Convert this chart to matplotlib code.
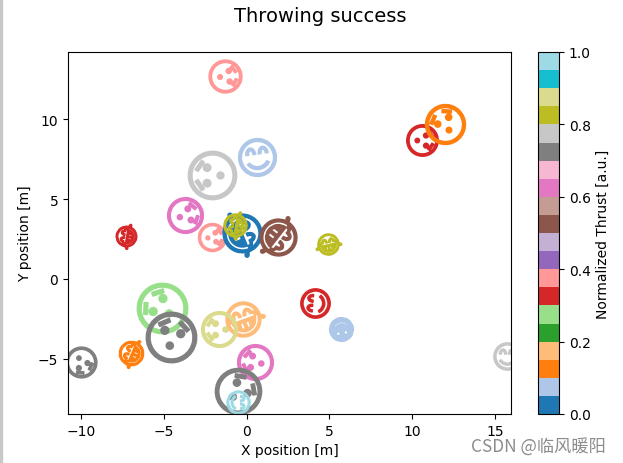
import matplotlib
matplotlib.use('Agg')
import matplotlib.pyplot as plt
from matplotlib.cm import ScalarMappable
from matplotlib.colors import Normalize
from matplotlib.font_manager import FontProperties
from matplotlib.markers import MarkerStyle
from matplotlib.path import Path
from matplotlib.textpath import TextPath
from matplotlib.transforms import Affine2D

# values
xpos = [-1.3, 0.6, -2.1, -3.7, -2.1, -0.3, -0.7, 1.9, -7.3, 10.6, 12.0, 4.9,
        4.1, 5.7, 15.7, -5.1, -4.6, -0.2, -1.7, -7.0, 0.5, -10.0, -0.5, -0.5]
ypos = [12.7, 7.6, 6.5, 4.0, 2.6, 2.9, 3.4, 2.6, 2.7, 8.7, 9.7, 2.2,
        -1.5, -3.1, -4.8, -1.8, -3.6, -2.5, -3.1, -4.6, -5.2, -5.2, -7.0, -7.7]
skill = [4.7, 5.4, 6.9, 5.1, 4.0, 6.2, 3.7, 5.9, 3.3, 4.5, 5.7, 3.4,
         4.2, 3.4, 3.9, 7.2, 7.2, 5.6, 5.1, 3.9, 5.1, 4.4, 6.6, 3.3]
angle = [-85, 8, 90, -74, -85, -67, 80, -128, 80, -90, 32, 12,
         85, 190, 0, 53, -12, 20, 90, 67, 80, -150, -45, -90]
thrust = [0.375, 0.075, 0.775, 0.625, 0.375, 0.025, 0.825, 0.525, 0.325, 0.325, 0.125, 0.825,
          0.325, 0.075, 0.775, 0.275, 0.725, 0.175, 0.875, 0.125, 0.625, 0.725, 0.725, 0.975]
mood = [1, 2, 1, 1, 1, 0, 0, 0, 0, 1, 1, 0,
        2, 3, 2, 1, 1, 0, 1, 0, 1, 1, 1, 2]
glyphs = ["\U0001F602", "\U0001F62F", "\U0001F60A", "\u263B"]

fp = FontProperties(family='DejaVu Sans')
symbols = []
for g in glyphs:
    p = TextPath((0, 0), g, prop=fp)
    # centre the glyph so the rotation keeps it on its position
    bb = p.get_extents()
    symbols.append(Path(p.vertices - [(bb.x0 + bb.x1) / 2, (bb.y0 + bb.y1) / 2], p.codes))

cmap = plt.colormaps['tab20']

fig = plt.figure(figsize=(6.23, 4.64), dpi=100)
fig.suptitle('Throwing success', size=14, x=320 / 623, y=0.985)
ax = fig.add_axes([68 / 623, 1 - 415 / 464, 443 / 623, 362 / 464])

for px, py, s, a, th, m in zip(xpos, ypos, skill, angle, thrust, mood):
    t = Affine2D().scale(s).rotate_deg(a)
    ax.plot(px, py, marker=MarkerStyle(symbols[m], transform=t), color=cmap(th))

ax.set_xlim(-10.8, 15.97)
ax.set_ylim(-8.44, 14.19)
ax.set_xticks([-10, -5, 0, 5, 10, 15])
ax.set_yticks([-5, 0, 5, 10])
ax.set_xlabel('X position [m]')
ax.set_ylabel('Y position [m]')

cax = fig.add_axes([538 / 623, 1 - 415 / 464, 21 / 623, 362 / 464])
fig.colorbar(ScalarMappable(norm=Normalize(0, 1), cmap=cmap), cax=cax,
             label='Normalized Thrust [a.u.]')

# left edge strip and watermark of the screenshot
fig.patches.append(plt.Rectangle((0, 0), 2 / 623, 1, transform=fig.transFigure, color='#c8c8c8'))
fig.text(471 / 623, 1 - 453 / 464, 'CSDN @临风暖阳', fontsize=12.4, color='#8c8c8c',
         family=['Noto Sans CJK SC', 'DejaVu Sans'])

fig.savefig('out.png', dpi=100)
